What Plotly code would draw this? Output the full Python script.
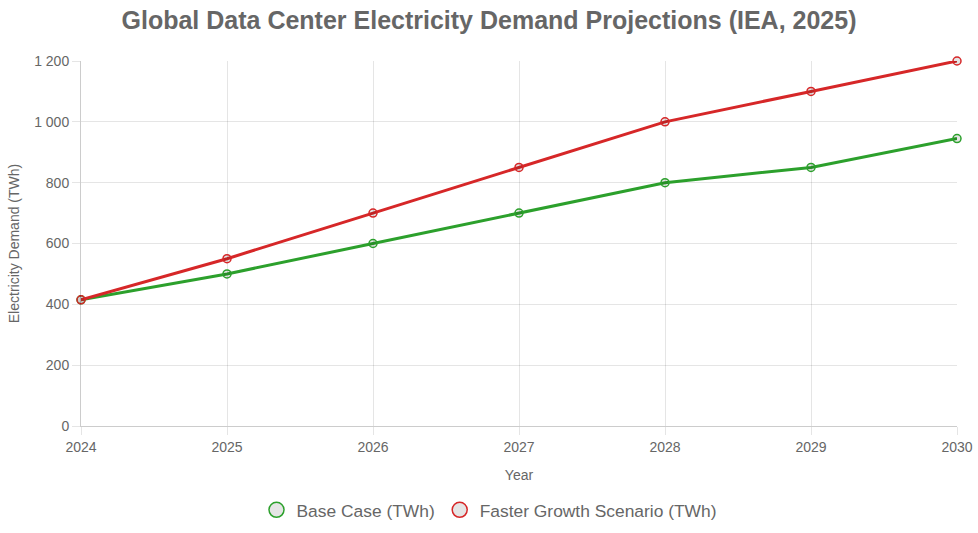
import plotly.graph_objects as go

years = [2024, 2025, 2026, 2027, 2028, 2029, 2030]
base_case = [415, 500, 600, 700, 800, 850, 945]
faster_growth = [415, 550, 700, 850, 1000, 1100, 1200]

series = [
    ("Base Case (TWh)", base_case, "#2ca02c"),
    ("Faster Growth Scenario (TWh)", faster_growth, "#d62728"),
]

fig = go.Figure()
for name, vals, col in series:
    fig.add_trace(go.Scatter(
        x=years, y=vals, name=name, mode="lines+markers", showlegend=False,
        line=dict(color=col, width=3),
        marker=dict(size=8, color="rgba(0,0,0,0.1)", line=dict(color=col, width=1.5)),
        cliponaxis=False,
    ))
# legend-only entries (circle symbols like the reference legend)
for name, vals, col in series:
    fig.add_trace(go.Scatter(
        x=[None], y=[None], name=name, mode="markers", showlegend=True,
        marker=dict(size=15, color="rgba(0,0,0,0.1)", line=dict(color=col, width=1.5)),
    ))

W, H = 978, 533
L, R, T, B = 81, 21, 61, 107
fig.update_layout(
    width=W, height=H,
    paper_bgcolor="white", plot_bgcolor="white",
    font=dict(family="Liberation Sans, Arial, sans-serif", color="#666", size=14),
    separators=". ",
    title=dict(text="<b>Global Data Center Electricity Demand Projections (IEA, 2025)</b>",
               x=0.5, xanchor="center", y=1 - 20 / H, yanchor="middle",
               font=dict(size=25, color="#666")),
    margin=dict(l=L, r=R, t=T, b=B, autoexpand=False),
    showlegend=True,
    legend=dict(orientation="h", xref="container", yref="container",
                x=0.5, xanchor="center", y=1 - 510 / H, yanchor="middle",
                font=dict(size=17.4, color="#666"), itemwidth=30, traceorder="normal"),
    xaxis=dict(
        range=[2024, 2030], tickmode="array", tickvals=years, ticktext=[str(y) for y in years],
        showgrid=True, gridcolor="rgba(0,0,0,0.1)", zeroline=False,
        showline=True, linecolor="rgba(0,0,0,0.2)", linewidth=1,
        ticks="outside", ticklen=8, tickcolor="rgba(0,0,0,0.1)",
        automargin=False, ticklabeloverflow="allow",
        title=dict(text="Year", font=dict(size=14, color="#666"), standoff=16),
        tickfont=dict(size=14, color="#666"),
    ),
    yaxis=dict(
        range=[0, 1200], dtick=200, tick0=0,
        showgrid=True, gridcolor="rgba(0,0,0,0.1)", zeroline=False,
        showline=True, linecolor="rgba(0,0,0,0.2)", linewidth=1,
        ticks="outside", ticklen=8, tickcolor="rgba(0,0,0,0.1)",
        automargin=False, separatethousands=True,
        title=dict(text="Electricity Demand (TWh)", font=dict(size=14, color="#666"), standoff=11),
        tickfont=dict(size=14, color="#666"),
    ),
)

fig.write_html(
    "out.html",
    config={"displayModeBar": False},
    post_script="document.body.style.margin='0';document.body.style.overflow='hidden';",
)
